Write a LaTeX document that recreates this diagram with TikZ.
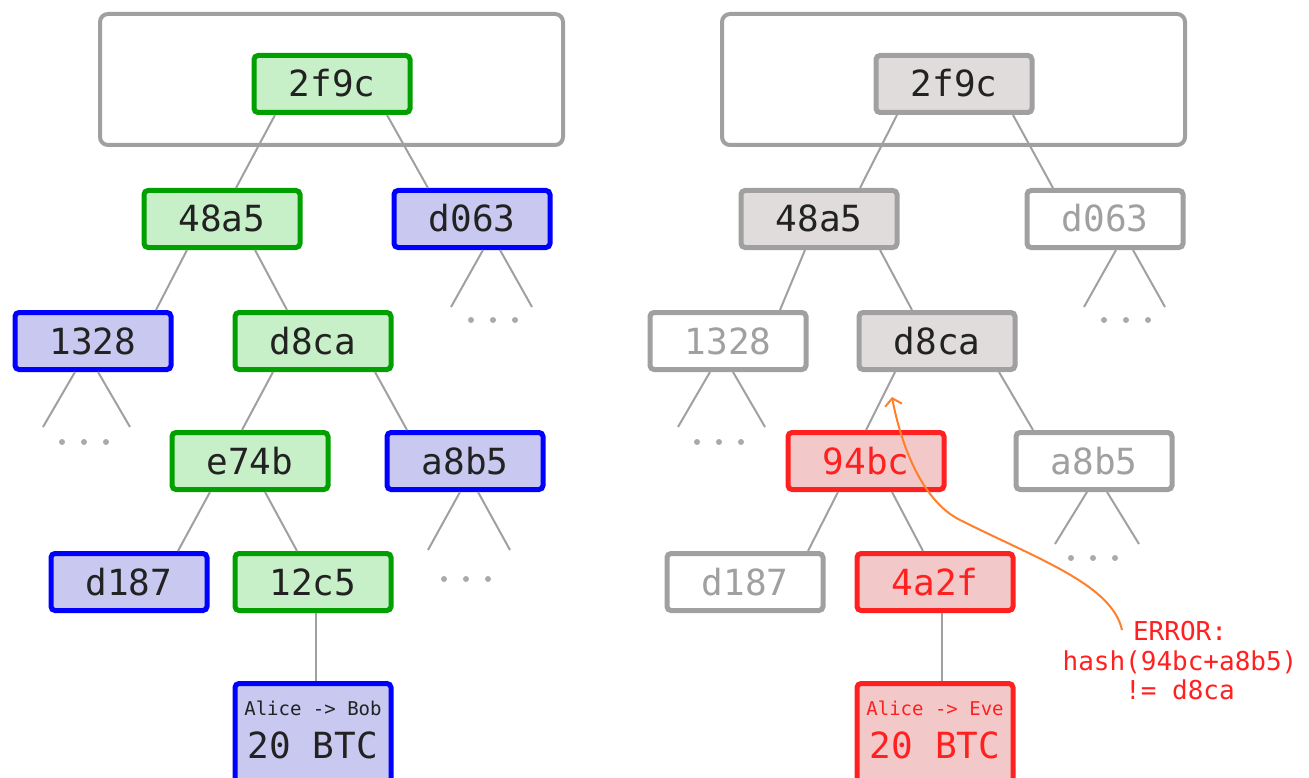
\documentclass[tikz,border=0pt]{standalone}
\usepackage{fontspec}
\usetikzlibrary{calc,arrows.meta}
\newfontfamily\hashfont{DejaVu Sans Mono}

\definecolor{okgreen}{HTML}{00A000}
\definecolor{okfill}{HTML}{C8F0C8}
\definecolor{sideblue}{HTML}{0000FF}
\definecolor{sidefill}{HTML}{C8C8F0}
\definecolor{fadegray}{HTML}{A0A0A0}
\definecolor{keptfill}{HTML}{E0DCDC}
\definecolor{badred}{HTML}{FF2020}
\definecolor{badfill}{HTML}{F2C8C8}
\definecolor{inkdark}{HTML}{222222}
\definecolor{errorange}{HTML}{FF7F2A}

\tikzset{
    hashbox/.style={rectangle, rounded corners=4, line width=5, inner sep=0,
        minimum width=156, minimum height=57, text height=26, text depth=0,
        font=\hashfont\fontsize{36}{40}\selectfont},
    okbox/.style={hashbox, draw=okgreen, fill=okfill, text=inkdark},
    sidebox/.style={hashbox, draw=sideblue, fill=sidefill, text=inkdark},
    keptbox/.style={hashbox, draw=fadegray, fill=keptfill, text=inkdark},
    fadebox/.style={hashbox, draw=fadegray, fill=white, text=fadegray},
    badbox/.style={hashbox, draw=badred, fill=badfill, text=badred},
    leafbox/.style={hashbox, minimum height=113},
    blockframe/.style={draw=fadegray, line width=4, rounded corners=8},
    branch/.style={draw=fadegray, line width=2},
    smalltx/.style={font=\hashfont\fontsize{19}{22}\selectfont},
    bigtx/.style={font=\hashfont\fontsize{36}{40}\selectfont},
    errtext/.style={font=\hashfont\fontsize{26}{29.5}\selectfont, text=badred, align=center},
}

% two branches and three dots under a node
\newcommand{\subdots}[6]{%
    \draw[branch] ($(#1.south)+(#2,0)$) -- ++(-32,#4);
    \draw[branch] ($(#1.south)+(#3,0)$) -- ++(32,#4);
    \fill[fadegray!90] ($(#1.south)+(#5,#6)$) ++(-22,0) circle (3) ++(22,0) circle (3) ++(22,0) circle (3);
}

\begin{document}
\begin{tikzpicture}[x=1pt, y=-1pt]
    \useasboundingbox (0,0) rectangle (1309,778);

    % block headers
    \draw[blockframe] (100,14) rectangle (563,145);
    \draw[blockframe] (722,14) rectangle (1185,145);

    % left tree
    \node[okbox] (L2f9c) at (332,84) {2f9c};
    \node[okbox] (L48a5) at (222,219) {48a5};
    \node[sidebox] (Ld063) at (472,219) {d063};
    \node[sidebox] (L1328) at (93,341) {1328};
    \node[okbox] (Ld8ca) at (313,341) {d8ca};
    \node[okbox] (Le74b) at (250,461) {e74b};
    \node[sidebox] (La8b5) at (465,461) {a8b5};
    \node[sidebox] (Ld187) at (129,582) {d187};
    \node[okbox] (L12c5) at (313,582) {12c5};
    \node[leafbox, draw=sideblue, fill=sidefill] (Lleaf) at (313,740) {};
    \node[smalltx, text=inkdark] at (313,708) {Alice -> Bob};
    \node[bigtx, text=inkdark] at (313,745) {20 BTC};

    \draw[branch] ($(L2f9c.south)+(-57,0)$) -- ($(L48a5.north)+(14,0)$);
    \draw[branch] ($(L2f9c.south)+(55,0)$) -- ($(Ld063.north)+(-44,0)$);
    \draw[branch] ($(L48a5.south)+(-35,0)$) -- ($(L1328.north)+(63,0)$);
    \draw[branch] ($(L48a5.south)+(33,0)$) -- ($(Ld8ca.north)+(-26,0)$);
    \draw[branch] ($(Ld8ca.south)+(-40,0)$) -- ($(Le74b.north)+(-8,0)$);
    \draw[branch] ($(Ld8ca.south)+(62,0)$) -- ($(La8b5.north)+(-58,0)$);
    \draw[branch] ($(Le74b.south)+(-40,0)$) -- ($(Ld187.north)+(49,0)$);
    \draw[branch] ($(Le74b.south)+(15,0)$) -- ($(L12c5.north)+(-16,0)$);
    \draw[branch] ($(L12c5.south)+(3,0)$) -- ($(Lleaf.north)+(3,0)$);

    \subdots{L1328}{-18}{5}{55}{-9}{70}
    \subdots{Ld063}{11}{28}{57}{21}{70}
    \subdots{La8b5}{-5}{13}{58}{1}{87}

    % right tree
    \node[keptbox] (R2f9c) at (954,84) {2f9c};
    \node[keptbox] (R48a5) at (819,219) {48a5};
    \node[fadebox] (Rd063) at (1105,219) {d063};
    \node[fadebox] (R1328) at (728,341) {1328};
    \node[keptbox] (Rd8ca) at (937,341) {d8ca};
    \node[badbox] (R94bc) at (866,461) {94bc};
    \node[fadebox] (Ra8b5) at (1094,461) {a8b5};
    \node[fadebox] (Rd187) at (745,582) {d187};
    \node[badbox] (R4a2f) at (935,582) {4a2f};
    \node[leafbox, draw=badred, fill=badfill] (Rleaf) at (935,740) {};
    \node[smalltx, text=badred] at (935,708) {Alice -> Eve};
    \node[bigtx, text=badred] at (935,745) {20 BTC};

    \draw[branch] ($(R2f9c.south)+(-57,0)$) -- ($(R48a5.north)+(41,0)$);
    \draw[branch] ($(R2f9c.south)+(59,0)$) -- ($(Rd063.north)+(-52,0)$);
    \draw[branch] ($(R48a5.south)+(-14,0)$) -- ($(R1328.north)+(52,0)$);
    \draw[branch] ($(R48a5.south)+(61,0)$) -- ($(Rd8ca.north)+(-25,0)$);
    \draw[branch] ($(Rd8ca.south)+(-42,0)$) -- ($(R94bc.north)+(0,0)$);
    \draw[branch] ($(Rd8ca.south)+(62,0)$) -- ($(Ra8b5.north)+(-61,0)$);
    \draw[branch] ($(R94bc.south)+(-28,0)$) -- ($(Rd187.north)+(63,0)$);
    \draw[branch] ($(R94bc.south)+(26,0)$) -- ($(R4a2f.north)+(-12,0)$);
    \draw[branch] ($(R4a2f.south)+(7,0)$) -- ($(Rleaf.north)+(7,0)$);

    \subdots{R1328}{-18}{5}{55}{-9}{70}
    \subdots{Rd063}{11}{28}{57}{21}{70}
    \subdots{Ra8b5}{-7}{13}{52}{-1}{66}

    % the failed check
    \node[errtext] (errmsg) at (1180,661) {ERROR:\\hash(94bc+a8b5)\\!= d8ca};
    \coordinate (errtail) at (1122,630);
    \coordinate (errtip) at (892,397);
    \draw[errorange, line width=2, -{Straight Barb[length=7,width=17]}]
        (errtail) .. controls (1112,585) and (1040,560) .. (960,520)
        .. controls (920,500) and (900,440) .. (errtip);
\end{tikzpicture}
\end{document}
